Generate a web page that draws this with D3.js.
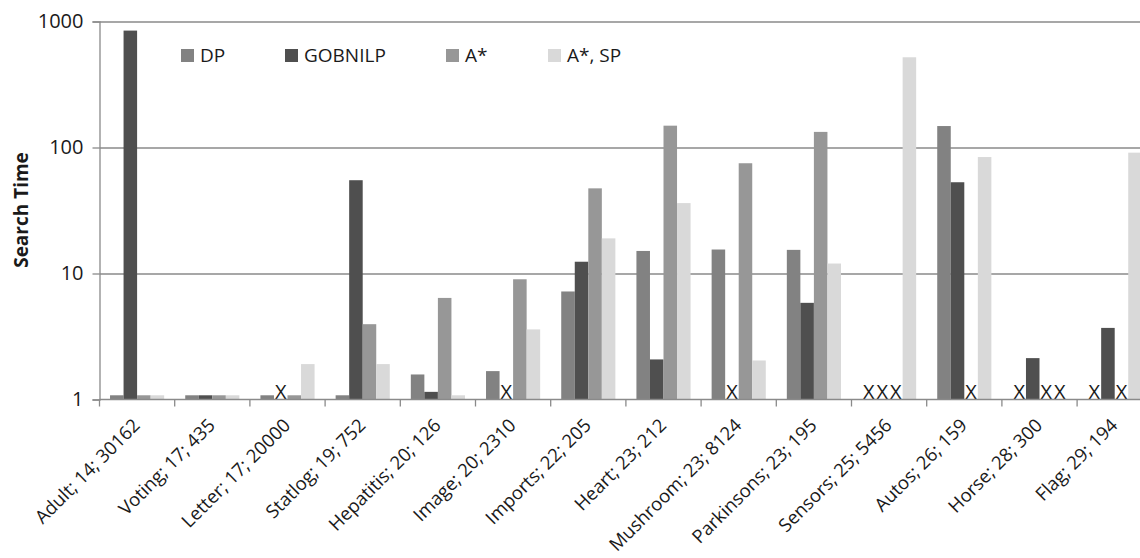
<!DOCTYPE html>
<html>
<head>
<meta charset="utf-8">
<script src="https://cdn.jsdelivr.net/npm/d3@7"></script>
<style>
  html, body { margin: 0; padding: 0; background: #fff; overflow: hidden; }
  svg { display: block; }
  text { font-family: "Open Sans", "Noto Sans", sans-serif; fill: #1a1a1a; }
</style>
</head>
<body>
<svg id="chart" width="1140" height="558"></svg>
<script>
// ---- data ----
const categories = [
  "Adult; 14; 30162", "Voting; 17; 435", "Letter; 17; 20000", "Statlog; 19; 752",
  "Hepatitis; 20; 126", "Image; 20; 2310", "Imports; 22; 205", "Heart; 23; 212",
  "Mushroom; 23; 8124", "Parkinsons; 23; 195", "Sensors; 25; 5456", "Autos; 26; 159",
  "Horse; 28; 300", "Flag; 29; 194"
];
const seriesNames = ["DP", "GOBNILP", "A*", "A*, SP"];
// null = not solved (drawn as "X")
const dpValues      = [1.08, 1.08, 1.08, 1.08, 1.58, 1.68, 7.2, 15.1, 15.5, 15.4, null, 148, null, null];
const gobnilpValues = [847, 1.08, null, 55, 1.15, null, 12.4, 2.08, null, 5.85, null, 53, 2.13, 3.7];
const astarValues   = [1.08, 1.08, 1.08, 3.96, 6.4, 9.0, 47.4, 149, 75, 133, null, null, null, null];
const astarSpValues = [1.08, 1.08, 1.91, 1.91, 1.08, 3.6, 19.0, 36.2, 2.04, 12.0, 520, 84, null, 91];
const yTicks = [1, 10, 100, 1000];
const yTitle = "Search Time";

const seriesValues = [dpValues, gobnilpValues, astarValues, astarSpValues];
const colors = ["#828282", "#4f4f4f", "#979797", "#d9d9d9"];

// ---- layout ----
const svg = d3.select("#chart");
const mLeft = 99.5, mTop = 21.5, mBottom = 399.5, step = 75.2;
const mRight = mLeft + step * categories.length;

const x = d3.scaleBand().domain(categories).range([mLeft, mRight]).paddingInner(0).paddingOuter(0);
const xs = d3.scaleBand().domain(seriesNames)
  .range([x.bandwidth() * 0.14, x.bandwidth() * 0.86]).padding(0);
const y = d3.scaleLog().domain([1, 1000]).range([mBottom, mTop]);

// gridlines
svg.append("g")
  .attr("transform", `translate(${mLeft},0)`)
  .call(d3.axisLeft(y).tickValues(yTicks.slice(1)).tickSize(-(1140 - mLeft)).tickFormat(""))
  .call(g => g.select(".domain").remove())
  .call(g => g.selectAll("line").attr("stroke", "#8a8a8a").attr("stroke-width", 1.3));

// bars
const rows = [];
categories.forEach((c, i) => {
  seriesNames.forEach((s, j) => rows.push({ c, s, j, v: seriesValues[j][i] }));
});
svg.append("g").selectAll("rect")
  .data(rows.filter(d => d.v != null))
  .join("rect")
  .attr("x", d => x(d.c) + xs(d.s))
  .attr("width", xs.bandwidth())
  .attr("y", d => y(d.v))
  .attr("height", d => y(1) - y(d.v))
  .attr("fill", d => colors[d.j]);

// X markers for unsolved
svg.append("g").selectAll("text")
  .data(rows.filter(d => d.v == null))
  .join("text")
  .attr("x", d => x(d.c) + xs(d.s) + xs.bandwidth() / 2)
  .attr("y", mBottom - 1)
  .attr("text-anchor", "middle")
  .style("font-size", "20px")
  .text("X");

// y axis
svg.append("g")
  .attr("transform", `translate(${mLeft},0)`)
  .call(d3.axisLeft(y).tickValues(yTicks).tickFormat(d3.format("d")).tickSize(7).tickPadding(9))
  .call(g => g.select(".domain").attr("stroke", "#8a8a8a").attr("stroke-width", 1.3))
  .call(g => g.selectAll("line").attr("stroke", "#8a8a8a").attr("stroke-width", 1.3))
  .call(g => g.selectAll("text").style("font-size", "20px").style("font-family", "'Open Sans', sans-serif").attr("fill", "#1a1a1a"));

// x axis line + boundary ticks
const xAxis = svg.append("g");
xAxis.append("line")
  .attr("x1", mLeft).attr("x2", 1140).attr("y1", mBottom).attr("y2", mBottom)
  .attr("stroke", "#8a8a8a").attr("stroke-width", 1.3);
xAxis.selectAll("line.tk")
  .data(categories.concat(["__end"]))
  .join("line").attr("class", "tk")
  .attr("x1", d => d === "__end" ? mRight : x(d))
  .attr("x2", d => d === "__end" ? mRight : x(d))
  .attr("y1", mBottom).attr("y2", mBottom + 7)
  .attr("stroke", "#8a8a8a").attr("stroke-width", 1.3);
xAxis.selectAll("text")
  .data(categories)
  .join("text")
  .attr("transform", d => `translate(${x(d) + x.bandwidth() / 2 + 4},${mBottom + 27}) rotate(-45)`)
  .attr("text-anchor", "end")
  .style("font-size", "18.5px")
  .text(d => d);

// y title
svg.append("text")
  .attr("transform", `translate(28,210) rotate(-90)`)
  .attr("text-anchor", "middle")
  .style("font-size", "19px")
  .style("font-weight", "bold")
  .text(yTitle);

// legend
const legendX = [181, 285, 446, 548];
const lg = svg.append("g").selectAll("g").data(seriesNames).join("g")
  .attr("transform", (d, i) => `translate(${legendX[i]},49)`);
lg.append("rect").attr("width", 13).attr("height", 13).attr("fill", (d, i) => colors[i]);
lg.append("text").attr("x", 19).attr("y", 13).style("font-size", "19px").text(d => d);
</script>
</body>
</html>
